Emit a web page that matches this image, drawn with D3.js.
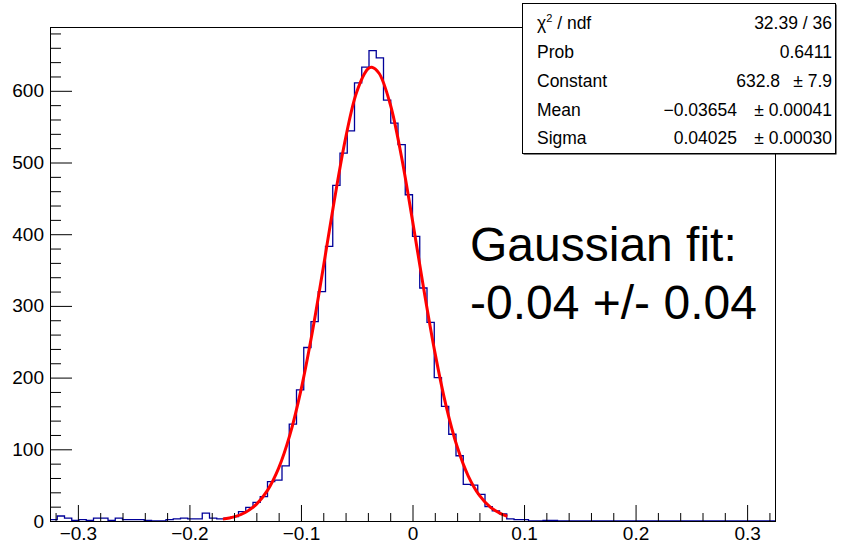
<!DOCTYPE html>
<html><head><meta charset="utf-8">
<script src="https://cdn.jsdelivr.net/npm/d3@7"></script>
<style>
body{margin:0;background:#fff}
svg text{font-family:"Liberation Sans",Arial,Helvetica,sans-serif}
</style>
</head><body>
<svg id="c" width="841" height="543"></svg>
<script>
// ---- data ----
const binLow = -0.325;
const binWidth = 0.0065;
const counts = [
  2, 7, 4, 1, 2, 1, 4, 4, 1, 4,
  2, 2, 2, 1, 0, 0, 2, 3, 4, 3,
  3, 11, 4, 3, 4, 6, 13, 19, 26, 34,
  55, 57, 77, 135, 183, 242, 278, 320, 383, 468,
  513, 544, 611, 633, 656, 646, 587, 555, 525, 455,
  397, 325, 277, 200, 160, 121, 91, 51, 50, 37,
  20, 14, 10, 3, 2, 2, 0, 0, 1, 1,
  0, 0, 0, 0, 0, 0, 0, 0, 0, 0,
  0, 0, 0, 0, 0, 0, 0, 0, 0, 0,
  0, 0, 0, 0, 0, 0, 0, 0, 0, 0
];
const fitX = [-0.17, -0.16, -0.15, -0.14, -0.13, -0.12, -0.11, -0.10, -0.09, -0.08,
  -0.07, -0.06, -0.05, -0.04, -0.0365, -0.03, -0.02, -0.01, 0.0, 0.01, 0.02,
  0.03, 0.04, 0.05, 0.06, 0.07, 0.08, 0.085];
const fitY = [2.6, 5.7, 11.9, 23.3, 42.7, 73.7, 119.7, 182.6, 261.9, 353.3,
  447.9, 533.9, 598.4, 630.5, 632.8, 624.5, 581.6, 509.2, 419.1, 324.3, 235.9,
  161.4, 103.8, 62.7, 35.7, 19.0, 9.6, 6.6];
const xTicks = [-0.3, -0.2, -0.1, 0, 0.1, 0.2, 0.3];
const yTicks = [0, 100, 200, 300, 400, 500, 600];
const statLabels = ["χ2 / ndf", "Prob", "Constant", "Mean", "Sigma"];
const statValues = ["32.39 / 36", "0.6411", "632.8", "\u22120.03654", "0.04025"];
const statErrors = ["", "", "\u00b1 7.9", "\u00b1 0.00041", "\u00b1 0.00030"];
const annotation = ["Gaussian fit:", "-0.04 +/- 0.04"];

// ---- layout ----
const svg = d3.select("#c");
const L = 50, R = 775, T = 27, B = 521;
const x = d3.scaleLinear().domain([-0.325, 0.325]).range([L, R]);
const y = d3.scaleLinear().domain([0, 689]).range([B, T]);

const xMinor = d3.range(-16, 17).map(i => i * 0.02).filter(v => Math.abs(Math.round(v * 10) - v * 10) > 1e-6);
const yMinor = d3.range(0, 690, 20).filter(v => v % 100 !== 0);

const fmtX = d => d === 0 ? "0" : d3.format(".1f")(d);

// histogram
const bins = counts.map((c, i) => ({x0: binLow + i * binWidth, x1: binLow + (i + 1) * binWidth, c}));
let p = d3.path();
bins.forEach((b, i) => {
  if (i === 0) p.moveTo(x(b.x0), y(b.c)); else p.lineTo(x(b.x0), y(b.c));
  p.lineTo(x(b.x1), y(b.c));
});
svg.append("defs").append("clipPath").attr("id", "clip")
  .append("rect").attr("x", L).attr("y", T).attr("width", R - L).attr("height", B - T);

svg.append("path").attr("d", p.toString()).attr("fill", "none")
  .attr("stroke", "#000099").attr("stroke-width", 1.3).attr("clip-path", "url(#clip)");

// fit curve
const line = d3.line().x((d, i) => x(fitX[i])).y((d, i) => y(fitY[i])).curve(d3.curveCatmullRom.alpha(0.5));
svg.append("path").attr("d", line(fitX)).attr("fill", "none")
  .attr("stroke", "#ff0000").attr("stroke-width", 3);

// axes
const gx = svg.append("g").attr("transform", `translate(0,${B})`);
gx.call(d3.axisBottom(x).tickValues(xTicks).tickFormat(fmtX).tickSize(-16).tickSizeOuter(0).tickPadding(5.5));
const gxm = svg.append("g").attr("transform", `translate(0,${B})`);
gxm.call(d3.axisBottom(x).tickValues(xMinor).tickFormat("").tickSize(-8).tickSizeOuter(0));
const gy = svg.append("g").attr("transform", `translate(${L},0)`);
gy.call(d3.axisLeft(y).tickValues(yTicks).tickFormat(d3.format("d")).tickSize(-22).tickSizeOuter(0).tickPadding(6));
const gym = svg.append("g").attr("transform", `translate(${L},0)`);
gym.call(d3.axisLeft(y).tickValues(yMinor).tickFormat("").tickSize(-11).tickSizeOuter(0));
[gx, gxm, gy, gym].forEach(g => {
  g.select(".domain").remove();
  g.selectAll("line").attr("stroke", "#000").attr("stroke-width", 1);
  g.selectAll("text").attr("fill", "#000").style("font-size", "19px").style("font-family", '"Liberation Sans",Arial,sans-serif');
});

// frame
svg.append("rect").attr("x", L + 0.5).attr("y", T + 0.5).attr("width", R - L).attr("height", B - T)
  .attr("fill", "none").attr("stroke", "#000").attr("stroke-width", 1);

// stats box
const bx = 522, by = 3, bw = 313, bh = 150;
svg.append("rect").attr("x", bx + 1.5).attr("y", by + 1.5).attr("width", bw).attr("height", bh).attr("fill", "#000");
svg.append("rect").attr("x", bx + 0.5).attr("y", by + 0.5).attr("width", bw).attr("height", bh)
  .attr("fill", "#fff").attr("stroke", "#000").attr("stroke-width", 1);
const rowY = [29, 58, 87, 116, 144];
const valRight = [832, 832, 780, 737, 737];
statLabels.forEach((lab, i) => {
  const t = svg.append("text").attr("x", 537).attr("y", rowY[i]).style("font-size", "17.5px").attr("fill", "#000");
  if (i === 0) {
    t.append("tspan").text("χ");
    t.append("tspan").attr("dy", -7).style("font-size", "11px").text("2");
    t.append("tspan").attr("dy", 7).text(" / ndf");
  } else t.text(lab);
  svg.append("text").attr("x", valRight[i]).attr("y", rowY[i]).attr("text-anchor", "end")
    .style("font-size", "17.5px").attr("fill", "#000").text(statValues[i]);
  if (statErrors[i]) svg.append("text").attr("x", 832).attr("y", rowY[i]).attr("text-anchor", "end")
    .style("font-size", "17.5px").attr("fill", "#000").text(statErrors[i]);
});

// annotation
annotation.forEach((s, i) => {
  svg.append("text").attr("x", 470).attr("y", 261 + i * 58).style("font-size", "48px")
    .attr("fill", "#000").text(s);
});
</script>
</body></html>
